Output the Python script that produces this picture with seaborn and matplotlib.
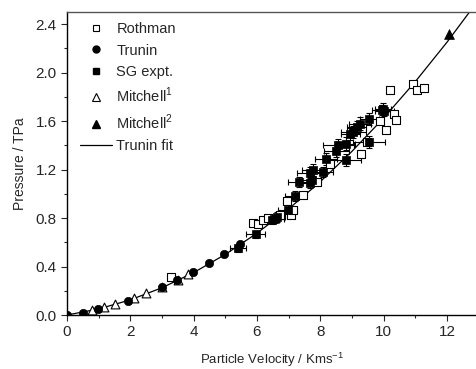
import numpy as np
import pandas as pd
import seaborn as sns
import matplotlib
matplotlib.use("Agg")
import matplotlib.pyplot as plt
from matplotlib.lines import Line2D
from matplotlib.ticker import MultipleLocator

# Rothman (open squares)
rothman_up = [3.28, 5.88, 6.04, 6.20, 6.35, 6.72, 6.94, 7.09, 7.15, 7.46, 7.90, 8.30,
              9.30, 9.48, 9.88, 10.07, 10.20, 10.33, 10.39, 10.94, 11.04, 11.28]
rothman_p = [0.316, 0.76, 0.75, 0.78, 0.80, 0.825, 0.94, 0.825, 0.87, 0.99, 1.10, 1.25,
             1.33, 1.43, 1.60, 1.53, 1.86, 1.66, 1.61, 1.91, 1.86, 1.875]

# Trunin (filled circles)
trunin_up = [0.0, 0.49, 0.99, 1.92, 3.00, 3.46, 3.99, 4.49, 4.96, 5.46]
trunin_p = [0.0, 0.02, 0.047, 0.118, 0.228, 0.289, 0.355, 0.426, 0.50, 0.585]

# SG experiment (filled squares with error bars)
sg_up = [5.41, 5.96, 6.46, 6.55, 6.62, 6.97, 7.20, 7.33, 7.67, 7.67, 7.73, 7.78, 8.09,
         8.18, 8.51, 8.57, 8.80, 8.80, 8.94, 9.04, 9.15, 9.25, 9.54, 9.55, 9.94, 9.99, 10.02]
sg_p = [0.55, 0.665, 0.78, 0.79, 0.81, 0.87, 0.98, 1.10, 1.09, 1.17, 1.11, 1.195, 1.18,
        1.29, 1.35, 1.40, 1.415, 1.28, 1.49, 1.51, 1.55, 1.58, 1.43, 1.62, 1.69, 1.70, 1.68]
sg_up_err = [0.25, 0.3, 0.25, 0.3, 0.25, 0.3, 0.3, 0.35, 0.3, 0.4, 0.3, 0.35, 0.3,
             0.35, 0.4, 0.5, 0.3, 0.5, 0.3, 0.4, 0.3, 0.35, 0.5, 0.3, 0.3, 0.25, 0.3]
sg_p_err = [0.03, 0.03, 0.03, 0.03, 0.04, 0.04, 0.04, 0.04, 0.04, 0.05, 0.04, 0.05, 0.04,
            0.05, 0.05, 0.05, 0.05, 0.05, 0.05, 0.05, 0.05, 0.05, 0.05, 0.05, 0.04, 0.05, 0.04]

# Mitchell 1 (open triangles) and Mitchell 2 (filled triangle)
mitchell1_up = [0.79, 1.17, 1.50, 2.12, 2.48, 3.00, 3.50, 3.81]
mitchell1_p = [0.04, 0.063, 0.088, 0.14, 0.18, 0.23, 0.29, 0.338]
mitchell2_up = [12.06]
mitchell2_p = [2.32]

# Trunin fit curve
fit_up = [0, 1, 2, 3, 4, 5, 6, 7, 8, 9, 10, 11, 12, 13]
fit_p = [0.0, 0.05, 0.125, 0.225, 0.35, 0.5, 0.675, 0.875, 1.1, 1.35, 1.625, 1.925, 2.25, 2.6]

sns.set_style("ticks")
plt.rcParams['font.family'] = ['Liberation Sans', 'DejaVu Sans']
plt.rcParams['mathtext.fontset'] = 'custom'
plt.rcParams['mathtext.rm'] = 'Liberation Sans'

fig = plt.figure(figsize=(4.77, 3.69), dpi=100)
ax = fig.add_axes([0.1405, 0.1463, 0.8595, 0.8212])

sns.lineplot(x=fit_up, y=fit_p, ax=ax, color='black', lw=0.9, zorder=2)

ax.errorbar(sg_up, sg_p, xerr=sg_up_err, yerr=sg_p_err, fmt='none',
            ecolor='black', elinewidth=0.8, capsize=2.5, capthick=0.8, zorder=3)
sns.scatterplot(x=sg_up, y=sg_p, ax=ax, marker='s', s=36, color='black',
                edgecolor='black', linewidth=0.5, zorder=4)
sns.scatterplot(x=rothman_up, y=rothman_p, ax=ax, marker='s', s=36, facecolor='white',
                edgecolor='black', linewidth=0.8, zorder=3)
sns.scatterplot(x=trunin_up, y=trunin_p, ax=ax, marker='o', s=36, color='black',
                edgecolor='black', linewidth=0.5, zorder=5)
sns.scatterplot(x=mitchell1_up, y=mitchell1_p, ax=ax, marker='^', s=40, facecolor='white',
                edgecolor='black', linewidth=0.8, zorder=4)
sns.scatterplot(x=mitchell2_up, y=mitchell2_p, ax=ax, marker='^', s=50, color='black',
                edgecolor='black', linewidth=0.5, zorder=4)

ax.set_xlim(0, 12.95)
ax.set_ylim(0, 2.5)
ax.xaxis.set_major_locator(MultipleLocator(2))
ax.xaxis.set_minor_locator(MultipleLocator(1))
ax.yaxis.set_major_locator(MultipleLocator(0.4))
ax.yaxis.set_minor_locator(MultipleLocator(0.2))
ax.yaxis.set_major_formatter(matplotlib.ticker.FormatStrFormatter('%.1f'))
ax.tick_params(which='major', direction='out', length=4, width=0.8, labelsize=11,
               top=False, right=False)
ax.tick_params(which='minor', direction='out', length=2.5, width=0.8, top=False, right=False)
for side in ['left', 'bottom']:
    ax.spines[side].set_linewidth(1.0)
    ax.spines[side].set_color('black')
ax.spines['top'].set_color('#555555')
ax.spines['top'].set_linewidth(1.0)
ax.spines['right'].set_visible(False)

ax.set_xlabel('Particle Velocity / Kms$^{-1}$', fontsize=9.5, labelpad=8)
ax.set_ylabel('Pressure / TPa', fontsize=10, labelpad=6)

handles = [
    Line2D([], [], ls='none', marker='s', ms=4.5, mfc='white', mec='black', mew=0.8),
    Line2D([], [], ls='none', marker='o', ms=5, mfc='black', mec='black'),
    Line2D([], [], ls='none', marker='s', ms=5, mfc='black', mec='black'),
    Line2D([], [], ls='none', marker='^', ms=5.5, mfc='white', mec='black', mew=0.8),
    Line2D([], [], ls='none', marker='^', ms=5.5, mfc='black', mec='black'),
    Line2D([], [], color='black', lw=0.9),
]
labels = ['Rothman', 'Trunin', 'SG expt.', 'Mitchell$^1$', 'Mitchell$^2$', 'Trunin fit']
ax.legend(handles, labels, loc='upper left', bbox_to_anchor=(0.01, 0.995), frameon=False,
          fontsize=10.5, handlelength=2.2, handletextpad=0.3, labelspacing=0.5,
          borderaxespad=0.2)

fig.savefig('out.png', dpi=100)
